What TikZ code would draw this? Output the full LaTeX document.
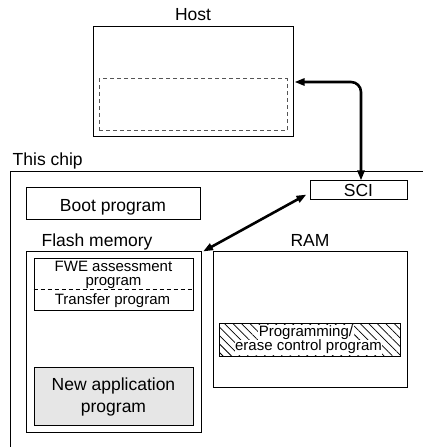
\documentclass[tikz,border=0pt]{standalone}
\usepackage{fontspec}
\setmainfont{Liberation Sans}
\usetikzlibrary{arrows.meta,patterns.meta}
\definecolor{appgray}{HTML}{E6E6E6}
\definecolor{bufgray}{HTML}{555555}
\tikzset{
  box/.style    = {draw, line width=1pt, rectangle, inner sep=0pt, align=center},
  big/.style    = {font=\fontsize{17.5}{21.6}\selectfont, align=center},
  small/.style  = {font=\fontsize{15}{13.5}\selectfont, align=center, inner sep=0.5pt},
  bus/.style    = {{Triangle[length=10pt,width=7pt]}-{Triangle[length=10pt,width=7pt]},
                   line width=2.6pt},
  hatch/.style  = {pattern={Lines[angle=-45,distance=6pt,line width=0.8pt]}},
}
\begin{document}
\begin{tikzpicture}[x=1pt,y=1pt]
\useasboundingbox (0,0) rectangle (423,447);
% host side
\node[big,anchor=base] (hostlab) at (193,426.3) {Host};
\node[box,minimum width=200pt,minimum height=110pt] (host) at (193,365) {};
\node[box,draw=bufgray,dash pattern=on 4pt off 3pt,
      minimum width=188pt,minimum height=52pt] (hostbuf) at (193,342) {};
% chip outline (runs off the page)
\coordinate (chipbl) at (10,0);
\coordinate (chiptl) at (10,275);
\coordinate (chiptr) at (423,275);
\draw[line width=1pt] (chipbl) -- (chiptl) -- (chiptr);
\node[big,anchor=base west,inner sep=0pt] (chiplab) at (12.5,281.3) {This chip};
\node[box,big,text depth=0pt,minimum width=97pt,minimum height=19pt] (sci) at (358.5,256.5) {SCI};
\node[box,minimum width=174pt,minimum height=32pt] (boot) at (113,243.2) {};
\node[big,anchor=base] (bootlab) at (113,235) {Boot program};
% flash memory
\node[big,anchor=base] (flashlab) at (97,200.3) {Flash memory};
\node[box,minimum width=175pt,minimum height=181pt] (flash) at (113.5,104.5) {};
\node[box,minimum width=159pt,minimum height=52pt] (fwe) at (113.5,162) {};
\draw[line width=0.8pt,dash pattern=on 4pt off 3pt]
  ([yshift=-31pt]fwe.north west) -- ([yshift=-31pt]fwe.north east);
\node[small] (fwelab) at (113.5,172.3) {FWE assessment\\program};
\node[small,anchor=base] (xferlab) at (112.5,142) {Transfer program};
\node[box,big,fill=appgray,minimum width=159pt,minimum height=58pt] (newapp) at (113.5,50)
  {New application\\program};
% RAM
\node[big,anchor=base] (ramlab) at (310,200.3) {RAM};
\node[box,minimum width=194pt,minimum height=136pt] (ram) at (310,127) {};
\node[box,hatch,minimum width=181pt,minimum height=33pt] (pecbox) at (309.5,106.5) {};
\node[small,fill=white,anchor=base] (peclab1) at (306,110.3) {Programming/};
\node[small,fill=white,anchor=base] (peclab2) at (308.5,96) {erase control program};
% connections
\draw[bus,rounded corners=10pt] ([xshift=2.5pt]sci.north) |- ([xshift=1pt]host.east);
\draw[bus] ([xshift=-3pt,yshift=-4pt]sci.west) -- ([xshift=1.5pt]flash.north east);
\end{tikzpicture}
\end{document}
